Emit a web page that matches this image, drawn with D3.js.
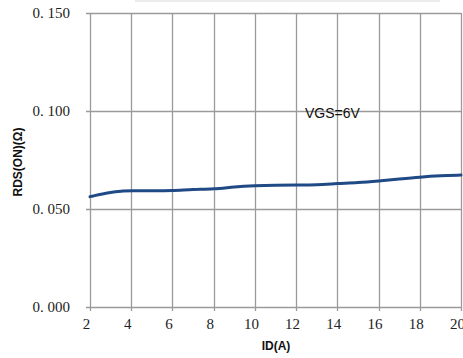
<!DOCTYPE html>
<html><head><meta charset="utf-8">
<script src="https://cdn.jsdelivr.net/npm/d3@7"></script>
<style>body{margin:0;background:#fff;}svg{display:block;}</style>
</head><body>
<script>
const idA = [2,3,3.5,4,5,6,7,8,9,10,11,12,13,14,15,16,17,18,19,20];
const rds = [0.0563,0.0585,0.0592,0.0593,0.0593,0.0593,0.0600,0.0601,0.0613,0.0619,0.0622,0.0623,0.0623,0.0630,0.0634,0.0643,0.0653,0.0663,0.0670,0.0673];
const xTicks = [2,4,6,8,10,12,14,16,18,20];
const yTicks = [0,0.05,0.10,0.15];
const yTickLabels = ["0. 000","0. 050","0. 100","0. 150"];
const seriesLabel = "VGS=6V";
const xTitle = "ID(A)";
const yTitle = "RDS(ON)(Ω)";

const W=463,H=358;
const svg=d3.select("body").append("svg").attr("width",W).attr("height",H);
const x=d3.scaleLinear().domain([2,20]).range([90,461]);
const y=d3.scaleLinear().domain([0,0.15]).range([307,13]);

// faint top box
svg.append("rect").attr("x",135).attr("y",-1).attr("width",305).attr("height",3).attr("fill","#ececec");

const grid="#9a9a9a";
svg.append("g").selectAll("line").data(xTicks).join("line")
  .attr("x1",d=>Math.round(x(d))+0.5).attr("x2",d=>Math.round(x(d))+0.5)
  .attr("y1",y(0.15)).attr("y2",y(0)+4)
  .attr("stroke",grid).attr("stroke-width",1.3);
svg.append("g").selectAll("line").data(yTicks).join("line")
  .attr("y1",d=>Math.round(y(d))+0.5).attr("y2",d=>Math.round(y(d))+0.5)
  .attr("x1",x(2)-4).attr("x2",x(20))
  .attr("stroke",grid).attr("stroke-width",1.3);

svg.append("g").selectAll("text").data(yTicks).join("text")
  .attr("x",70).attr("y",d=>y(d)+5)
  .attr("text-anchor","end")
  .style("font-family","'Liberation Serif','DejaVu Serif',serif").style("font-size","15px").attr("fill","#222")
  .text((d,i)=>yTickLabels[i]);
svg.append("g").selectAll("text").data(xTicks).join("text")
  .attr("x",d=>x(d)-3.5).attr("y",329)
  .attr("text-anchor","middle")
  .style("font-family","'Liberation Serif','DejaVu Serif',serif").style("font-size","15px").attr("fill","#222")
  .text(d=>d);

const line=d3.line().x((d,i)=>x(idA[i])).y(d=>y(d)).curve(d3.curveBasis);
svg.append("path").datum(rds).attr("d",line).attr("fill","none")
  .attr("stroke","#1f4a85").attr("stroke-width",3).attr("stroke-linecap","round");

svg.append("text").attr("x",305).attr("y",118)
  .style("font-family","'Liberation Sans',Arial,sans-serif").style("font-size","14px").attr("fill","#111")
  .text(seriesLabel);

svg.append("text").attr("x",276).attr("y",350).attr("text-anchor","middle")
  .style("font-family","'Liberation Sans',Arial,sans-serif").style("font-size","12px").style("font-weight","bold").attr("fill","#111")
  .text(xTitle);
svg.append("text").attr("transform","translate(22,162) rotate(-90)").attr("text-anchor","middle")
  .style("font-family","'Liberation Sans',Arial,sans-serif").style("font-size","12px").style("font-weight","bold").attr("fill","#111")
  .text(yTitle);
</script>
</body></html>
